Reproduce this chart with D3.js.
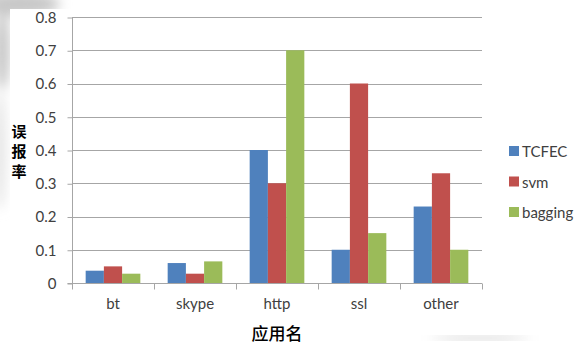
<!DOCTYPE html>
<html>
<head>
<meta charset="utf-8">
<script src="https://cdn.jsdelivr.net/npm/d3@7/dist/d3.min.js"></script>
<style>
  html, body { margin: 0; padding: 0; background: #fff; }
  svg { display: block; }
</style>
</head>
<body>
<svg id="chart" width="579" height="343"></svg>
<script>
// Error rate per application for three classifiers
const categories = ["bt", "skype", "http", "ssl", "other"];
const seriesNames = ["TCFEC", "svm", "bagging"];
const tcfec   = [0.037, 0.06, 0.4, 0.1, 0.23];
const svm     = [0.05, 0.028, 0.3, 0.6, 0.33];
const bagging = [0.028, 0.065, 0.7, 0.15, 0.1];
const yTicks = [0, 0.1, 0.2, 0.3, 0.4, 0.5, 0.6, 0.7, 0.8];
const yTickLabels = ["0", "0.1", "0.2", "0.3", "0.4", "0.5", "0.6", "0.7", "0.8"];
const colors = ["#4F81BD", "#C0504D", "#9BBB59"];

const series = [tcfec, svm, bagging];

const svg = d3.select("#chart");

// soft grey shading around the page edge
const defs = svg.append("defs");
const blur = defs.append("filter").attr("id", "soft")
  .attr("x", "-50%").attr("y", "-50%").attr("width", "200%").attr("height", "200%");
blur.append("feGaussianBlur").attr("stdDeviation", 6);
const shade = svg.append("g").attr("filter", "url(#soft)").attr("fill", "#c8c8c8");
shade.append("ellipse").attr("cx", 20).attr("cy", 4).attr("rx", 40).attr("ry", 12);
shade.append("ellipse").attr("cx", 2).attr("cy", 50).attr("rx", 8).attr("ry", 40);
shade.append("ellipse").attr("cx", 0).attr("cy", 150).attr("rx", 5).attr("ry", 60).attr("fill", "#e0e0e0");
svg.append("rect").attr("x", 10).attr("y", 9).attr("width", 560).attr("height", 325).attr("fill", "#fff");
const bottomLine = svg.append("g").attr("filter", "url(#soft)");
bottomLine.append("ellipse").attr("cx", 480).attr("cy", 338).attr("rx", 50).attr("ry", 1.5).attr("fill", "#b0b0b0");

const plot = { left: 72, right: 482, top: 17, bottom: 283 };

const x = d3.scaleBand().domain(categories).range([plot.left, plot.right]).paddingInner(0).paddingOuter(0);
const barW = x.bandwidth() / 4.5;
const xInner = d3.scaleBand().domain(seriesNames)
  .range([(x.bandwidth() - 3 * barW) / 2, (x.bandwidth() + 3 * barW) / 2]).padding(0);

const y = d3.scaleLinear().domain([0, 0.8]).range([plot.bottom, plot.top]);

const tickFont = "Lato, 'Open Sans', sans-serif";
const tickSize = 15;

// horizontal gridlines
svg.append("g").selectAll("line").data(yTicks.filter(d => d > 0)).join("line")
  .attr("x1", plot.left).attr("x2", plot.right)
  .attr("y1", d => Math.round(y(d)) + 0.5).attr("y2", d => Math.round(y(d)) + 0.5)
  .attr("stroke", "#a6a6a6").attr("stroke-width", 1);

// bars
const groups = svg.append("g").selectAll("g").data(categories).join("g")
  .attr("transform", d => `translate(${x(d)},0)`);
groups.selectAll("rect").data((c, i) => seriesNames.map((s, j) => ({ s, j, v: series[j][i] })))
  .join("rect")
  .attr("x", d => xInner(d.s))
  .attr("width", xInner.bandwidth())
  .attr("y", d => y(d.v))
  .attr("height", d => y(0) - y(d.v))
  .attr("fill", d => colors[d.j]);

// y axis
const yAxis = d3.axisLeft(y).tickValues(yTicks)
  .tickFormat((d, i) => yTickLabels[i]).tickSize(5).tickPadding(11);
const gy = svg.append("g").attr("transform", `translate(${plot.left + 0.5},0.5)`).call(yAxis);
gy.select(".domain").attr("stroke", "#a6a6a6").attr("d", `M-5,${plot.bottom}H0V${plot.top}`);
gy.selectAll(".tick line").attr("stroke", "#a6a6a6");
gy.selectAll(".tick text").attr("font-family", tickFont).attr("font-size", tickSize).attr("fill", "#404040");
gy.append("line").attr("x1", 0).attr("x2", 0).attr("y1", plot.bottom).attr("y2", plot.bottom + 6).attr("stroke", "#a6a6a6");

// x axis: ticks between categories, labels centred
const xAxis = d3.axisBottom(x).tickSize(0).tickPadding(15);
const gx = svg.append("g").attr("transform", `translate(0,${plot.bottom + 0.5})`).call(xAxis);
gx.select(".domain").attr("stroke", "#a6a6a6").attr("d", `M${plot.left},0H${plot.right}`);
gx.selectAll(".tick text").attr("font-family", tickFont).attr("font-size", tickSize).attr("fill", "#404040");
gx.selectAll("line.sep").data(categories).join("line").attr("class", "sep")
  .attr("x1", d => Math.round(x(d) + x.bandwidth()) + 0.5)
  .attr("x2", d => Math.round(x(d) + x.bandwidth()) + 0.5)
  .attr("y1", 0).attr("y2", 6).attr("stroke", "#a6a6a6");

// axis titles
const cjk = "'Noto Sans CJK SC', sans-serif";
const yTitle = "误报率";
svg.append("g").selectAll("text").data(Array.from(yTitle)).join("text")
  .attr("x", 19).attr("y", (d, i) => 130 + i * 20)
  .attr("text-anchor", "middle").attr("dominant-baseline", "central")
  .attr("font-family", cjk).attr("font-weight", "bold").attr("font-size", 15)
  .attr("fill", "#000").text(d => d);
svg.append("text").attr("x", 277).attr("y", 332)
  .attr("text-anchor", "middle").attr("dominant-baseline", "central")
  .attr("font-family", cjk).attr("font-weight", 500).attr("font-size", 17)
  .attr("fill", "#000").text("应用名");

// legend
const legend = svg.append("g").selectAll("g").data(seriesNames).join("g")
  .attr("transform", (d, i) => `translate(509,${151 + i * 30.5})`);
legend.append("rect").attr("x", 0).attr("y", -5).attr("width", 10).attr("height", 10)
  .attr("fill", (d, i) => colors[i]);
legend.append("text").attr("x", 13).attr("y", 0).attr("dominant-baseline", "central")
  .attr("font-family", tickFont).attr("font-size", tickSize).attr("fill", "#404040").text(d => d);
</script>
</body>
</html>
